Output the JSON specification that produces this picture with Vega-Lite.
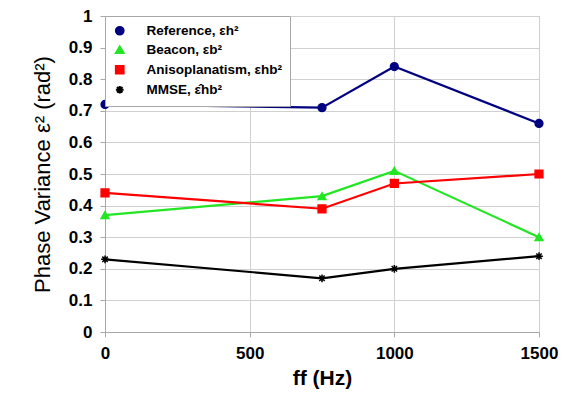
{
  "$schema": "https://vega.github.io/schema/vega-lite/v6.json",
  "width": 434,
  "height": 316,
  "autosize": "none",
  "padding": {"left": 105, "top": 16, "right": 31, "bottom": 73},
  "background": "white",
  "config": {
    "font": "Liberation Sans",
    "view": {"stroke": "#a8a8a8", "strokeWidth": 1}
  },
  "data": {
    "values": [
      {"f": 0, "v": 0.72, "s": "Reference, εh²"},
      {"f": 750, "v": 0.71, "s": "Reference, εh²"},
      {"f": 1000, "v": 0.84, "s": "Reference, εh²"},
      {"f": 1500, "v": 0.66, "s": "Reference, εh²"},
      {"f": 0, "v": 0.37, "s": "Beacon, εb²"},
      {"f": 750, "v": 0.43, "s": "Beacon, εb²"},
      {"f": 1000, "v": 0.51, "s": "Beacon, εb²"},
      {"f": 1500, "v": 0.30, "s": "Beacon, εb²"},
      {"f": 0, "v": 0.44, "s": "Anisoplanatism, εhb²"},
      {"f": 750, "v": 0.39, "s": "Anisoplanatism, εhb²"},
      {"f": 1000, "v": 0.47, "s": "Anisoplanatism, εhb²"},
      {"f": 1500, "v": 0.50, "s": "Anisoplanatism, εhb²"},
      {"f": 0, "v": 0.23, "s": "MMSE, ε̂hb²"},
      {"f": 750, "v": 0.17, "s": "MMSE, ε̂hb²"},
      {"f": 1000, "v": 0.20, "s": "MMSE, ε̂hb²"},
      {"f": 1500, "v": 0.24, "s": "MMSE, ε̂hb²"}
    ]
  },
  "encoding": {
    "x": {
      "field": "f", "type": "quantitative",
      "scale": {"domain": [0, 1500], "nice": false},
      "axis": {
        "values": [0, 500, 1000, 1500],
        "format": "d",
        "labelFlush": false,
        "title": "ff (Hz)",
        "titleFontSize": 21, "titleFontWeight": "bold", "titleColor": "black",
        "titlePadding": 6,
        "labelFontSize": 17, "labelFontWeight": "bold", "labelColor": "black", "labelPadding": 8,
        "gridColor": "#d0d0d0", "domainColor": "#a8a8a8", "tickColor": "#a8a8a8", "tickSize": 5
      }
    },
    "y": {
      "field": "v", "type": "quantitative",
      "scale": {"domain": [0, 1], "nice": false},
      "axis": {
        "values": [0, 0.1, 0.2, 0.3, 0.4, 0.5, 0.6, 0.7, 0.8, 0.9, 1],
        "format": "~g",
        "title": "Phase Variance ε² (rad²)",
        "titleFontSize": 22, "titleFontWeight": "normal", "titleColor": "black",
        "titlePadding": 14,
        "labelFontSize": 17, "labelFontWeight": "bold", "labelColor": "black", "labelPadding": 8,
        "gridColor": "#d0d0d0", "domainColor": "#a8a8a8", "tickColor": "#a8a8a8", "tickSize": 5
      }
    },
    "color": {
      "field": "s", "type": "nominal",
      "scale": {
        "domain": ["Reference, εh²", "Beacon, εb²", "Anisoplanatism, εhb²", "MMSE, ε̂hb²"],
        "range": ["#000080", "#22e622", "#ff0000", "#000000"]
      },
      "legend": {
        "title": null, "orient": "top-left", "offset": 0, "padding": 8,
        "strokeColor": "#a8a8a8", "fillColor": "white",
        "labelFontSize": 13.5, "labelFontWeight": "bold", "labelColor": "black",
        "symbolSize": 60, "rowPadding": 3, "labelOffset": 20, "symbolStrokeWidth": 2,
        "labelLimit": 300
      }
    }
  },
  "layer": [
    {"mark": {"type": "line", "strokeWidth": 2.2}},
    {
      "mark": {"type": "point", "filled": true, "size": 60, "opacity": 1},
      "encoding": {
        "shape": {
          "field": "s", "type": "nominal",
          "scale": {
            "domain": ["Reference, εh²", "Beacon, εb²", "Anisoplanatism, εhb²", "MMSE, ε̂hb²"],
            "range": ["circle", "triangle-up", "square", "M-1,0L1,0M0,-1L0,1M-0.7,-0.7L0.7,0.7M-0.7,0.7L0.7,-0.7"]
          }
        },
        "strokeWidth": {"value": 1.5},
        "stroke": {"field": "s", "type": "nominal", "legend": null,
          "scale": {"domain": ["Reference, εh²", "Beacon, εb²", "Anisoplanatism, εhb²", "MMSE, ε̂hb²"],
            "range": ["#000080", "#22e622", "#ff0000", "#000000"]}}
      }
    }
  ]
}
